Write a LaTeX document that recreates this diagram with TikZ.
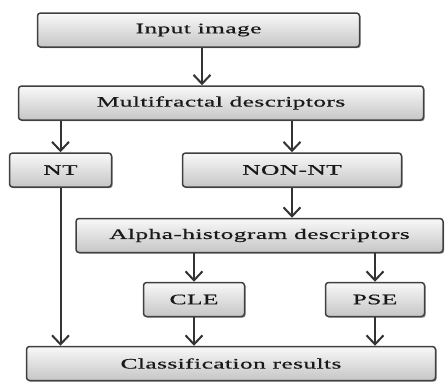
\documentclass[tikz,border=0pt]{standalone}
\usepackage{fontspec}
\setmainfont{Liberation Serif}[FakeStretch=1.75,LetterSpace=3,FakeBold=0.6]
\usetikzlibrary{arrows.meta,shadows}

\tikzset{
  stage/.style={draw=black!75, line width=1.5pt, rounded corners=3pt,
    top color=gray!5, bottom color=gray!45,
    drop shadow={shadow xshift=1.2pt, shadow yshift=-1.2pt, fill=black!55, opacity=0.8},
    minimum height=34pt, inner sep=0pt, text=black!90,
    font=\fontsize{14.5}{16}\selectfont},
  flow/.style={draw=black!80, line width=2pt,
    -{Straight Barb[length=9pt,width=17pt,line width=2pt]}},
}

\begin{document}
\begin{tikzpicture}[x=1pt,y=-1pt]
    \useasboundingbox (0,0) rectangle (446,381);

    % stages
    \node[stage, minimum width=322pt] (input) at (198.5,30) {Input image};
    \node[stage, minimum width=405pt] (multi) at (221,103) {Multifractal descriptors};
    \node[stage, minimum width=102pt] (nt) at (60.5,170) {NT};
    \node[stage, minimum width=219pt] (nonnt) at (292,170) {NON-NT};
    \node[stage, minimum width=367pt] (alpha) at (259.5,235.5) {Alpha-histogram descriptors};
    \node[stage, minimum width=101pt] (cle) at (194,299.5) {CLE};
    \node[stage, minimum width=99pt] (pse) at (375,299.5) {PSE};
    \node[stage, minimum width=409pt] (cls) at (231,363.5) {Classification results};

    % arrows
    \draw[flow] (input.south -| 202,0) -- (multi.north -| 202,0);
    \draw[flow] (nt |- multi.south) -- (nt.north);
    \draw[flow] (nonnt |- multi.south) -- (nonnt.north);
    \draw[flow] (nonnt.south) -- (nonnt |- alpha.north);
    \draw[flow] (cle |- alpha.south) -- (cle.north);
    \draw[flow] (pse |- alpha.south) -- (pse.north);
    \draw[flow] (nt.south) -- (nt |- cls.north);
    \draw[flow] (cle.south) -- (cle |- cls.north);
    \draw[flow] (pse.south) -- (pse |- cls.north);
\end{tikzpicture}
\end{document}
